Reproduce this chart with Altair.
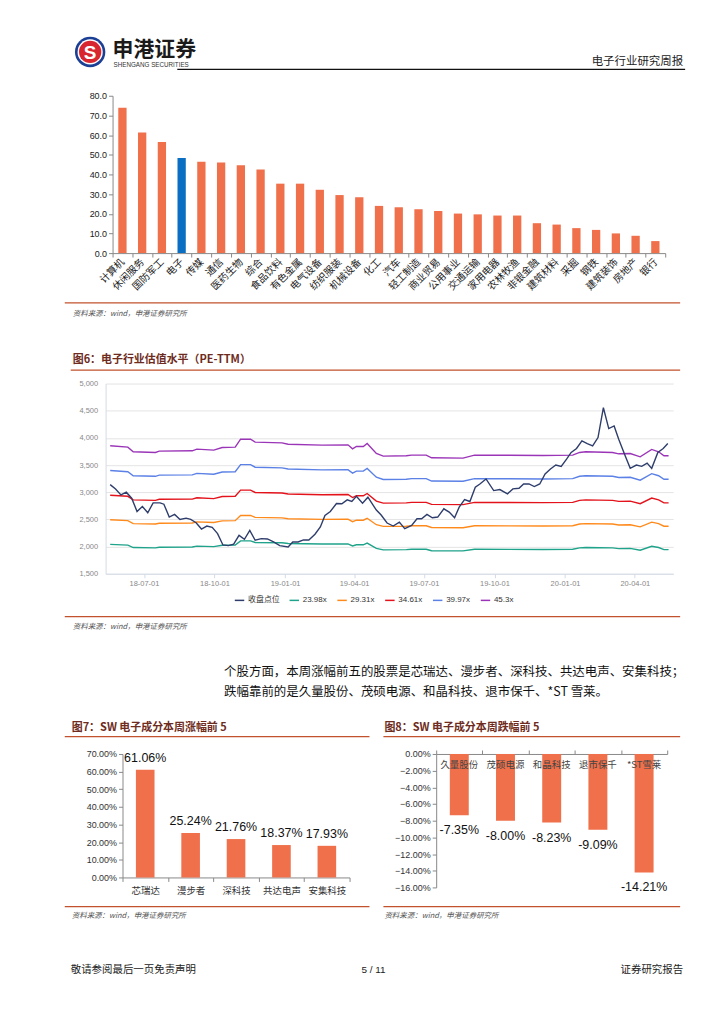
import altair as alt
import pandas as pd

# ---------------- data ----------------
industries = ["计算机", "休闲服务", "国防军工", "电子", "传媒", "通信", "医药生物", "综合",
              "食品饮料", "有色金属", "电气设备", "纺织服装", "机械设备", "化工", "汽车",
              "轻工制造", "商业贸易", "公用事业", "交通运输", "家用电器", "农林牧渔",
              "非银金融", "建筑材料", "采掘", "钢铁", "建筑装饰", "房地产", "银行"]
industry_pe = [73.9, 61.3, 56.5, 48.4, 46.4, 46.1, 44.7, 42.5, 35.3, 35.3, 32.2, 29.5,
               28.4, 24.0, 23.3, 22.3, 21.4, 20.1, 19.7, 19.1, 19.1, 15.2, 14.5, 12.7,
               11.8, 10.0, 8.8, 6.1]
highlight = "电子"
bar_ticks = [0, 10, 20, 30, 40, 50, 60, 70, 80]

series_names = ["收盘点位", "23.98x", "29.31x", "34.61x", "39.97x", "45.3x"]
series_colors = ["#2E3D6B", "#1FA38A", "#FF8A1C", "#E3121B", "#5B80E6", "#9B35B8"]

band_dates = ["2018-05-18", "2018-06-10", "2018-06-17", "2018-07-16", "2018-07-21",
              "2018-09-02", "2018-09-08", "2018-09-30", "2018-10-11", "2018-10-28",
              "2018-11-04", "2018-11-17", "2018-11-23", "2018-12-28", "2019-01-05",
              "2019-02-18", "2019-03-24", "2019-03-30", "2019-04-04", "2019-04-13",
              "2019-04-18", "2019-04-30", "2019-05-09", "2019-06-08", "2019-06-15",
              "2019-07-04", "2019-07-11", "2019-08-21", "2019-09-05", "2019-12-03",
              "2020-01-11", "2020-01-20", "2020-01-28", "2020-03-03", "2020-03-11",
              "2020-03-26", "2020-04-08", "2020-04-23", "2020-05-02", "2020-05-09",
              "2020-05-15"]
pe_45 = [3854, 3829, 3744, 3732, 3756, 3762, 3793, 3774, 3823, 3829, 3976, 3976, 3921, 3909,
         3884, 3866, 3872, 3799, 3841, 3841, 3896, 3713, 3665, 3671, 3683, 3683, 3634, 3628,
         3683, 3677, 3683, 3732, 3744, 3732, 3707, 3713, 3652, 3787, 3744, 3671, 3671]
pe_40 = [3400, 3378, 3303, 3293, 3314, 3319, 3347, 3330, 3373, 3378, 3508, 3508, 3460, 3449,
         3427, 3411, 3416, 3352, 3389, 3389, 3437, 3276, 3234, 3239, 3250, 3250, 3206, 3201,
         3250, 3244, 3250, 3293, 3303, 3293, 3271, 3276, 3222, 3341, 3303, 3239, 3239]
pe_35 = [2944, 2925, 2860, 2851, 2870, 2874, 2898, 2883, 2921, 2925, 3038, 3038, 2996, 2986,
         2967, 2954, 2958, 2902, 2935, 2935, 2977, 2837, 2800, 2805, 2814, 2814, 2776, 2772,
         2814, 2809, 2814, 2851, 2860, 2851, 2832, 2837, 2790, 2893, 2860, 2805, 2805]
pe_29 = [2494, 2477, 2422, 2415, 2430, 2434, 2454, 2442, 2473, 2477, 2573, 2573, 2537, 2529,
         2513, 2501, 2505, 2458, 2485, 2485, 2521, 2402, 2371, 2375, 2383, 2383, 2351, 2347,
         2383, 2379, 2383, 2415, 2422, 2415, 2398, 2402, 2363, 2450, 2422, 2375, 2375]
pe_24 = [2040, 2027, 1982, 1976, 1988, 1992, 2008, 1998, 2024, 2027, 2105, 2105, 2076, 2069,
         2056, 2047, 2050, 2011, 2033, 2033, 2063, 1966, 1940, 1943, 1950, 1950, 1924, 1921,
         1950, 1947, 1950, 1976, 1982, 1976, 1962, 1966, 1933, 2005, 1982, 1943, 1943]

close_dates = ["2018-05-18", "2018-05-25", "2018-06-01", "2018-06-08", "2018-06-15", "2018-06-22",
               "2018-06-29", "2018-07-06", "2018-07-13", "2018-07-22", "2018-07-27", "2018-08-03",
               "2018-08-10", "2018-08-17", "2018-08-25", "2018-08-31", "2018-09-07", "2018-09-14",
               "2018-09-21", "2018-09-28", "2018-10-05", "2018-10-12", "2018-10-19", "2018-10-26",
               "2018-11-02", "2018-11-09", "2018-11-16", "2018-11-23", "2018-12-01", "2018-12-09",
               "2018-12-17", "2018-12-25", "2019-01-05", "2019-01-11", "2019-01-18", "2019-01-25",
               "2019-02-01", "2019-02-09", "2019-02-16", "2019-02-22", "2019-03-01", "2019-03-09",
               "2019-03-16", "2019-03-23", "2019-03-29", "2019-04-04", "2019-04-12", "2019-04-19",
               "2019-04-30", "2019-05-06", "2019-05-14",
               "2019-05-22", "2019-05-30", "2019-06-06", "2019-06-15", "2019-06-22", "2019-06-28",
               "2019-07-05", "2019-07-12", "2019-07-19", "2019-07-27", "2019-08-03", "2019-08-10",
               "2019-08-16", "2019-08-23", "2019-08-30", "2019-09-06", "2019-09-12", "2019-09-20",
               "2019-09-30", "2019-10-08", "2019-10-18", "2019-10-25", "2019-11-02", "2019-11-08",
               "2019-11-15", "2019-11-22", "2019-11-29", "2019-12-06", "2019-12-13", "2019-12-20",
               "2019-12-27", "2020-01-03", "2020-01-09", "2020-01-16", "2020-01-23", "2020-01-30",
               "2020-02-06", "2020-02-13", "2020-02-20", "2020-02-27", "2020-03-05", "2020-03-11",
               "2020-03-19", "2020-03-26", "2020-04-03", "2020-04-10", "2020-04-17", "2020-04-23",
               "2020-05-01", "2020-05-08", "2020-05-14"]
close_values = [3140, 3061, 2951, 3000, 2890, 2646, 2738, 2622, 2805, 2805, 2780, 2543, 2591,
                2500, 2524, 2500, 2439, 2323, 2378, 2354, 2238, 2030, 2018, 2043, 2207, 2134,
                2299, 2116, 2146, 2140, 2085, 2018, 1994, 2085, 2085, 2122, 2122, 2226, 2360,
                2573, 2646, 2793, 2787, 2860, 2829, 2927, 2799, 2909, 2671, 2585, 2433,
                2378, 2451, 2329, 2390, 2512, 2512, 2591, 2530, 2543, 2695, 2634, 2530, 2726,
                2866, 2829, 3091, 3152, 3244, 3030, 3049, 2970, 3061, 3073, 3152, 3152, 3104,
                3152, 3335, 3427, 3500, 3476, 3610, 3732, 3805, 3945, 3896, 3854, 4006, 4555,
                4171, 4220, 3976, 3683, 3439, 3500, 3476, 3537, 3439, 3732, 3805, 3896]
line_ticks = [1500, 2000, 2500, 3000, 3500, 4000, 4500, 5000]
quarter_ticks = [(2018, 7), (2018, 10), (2019, 1), (2019, 4), (2019, 7), (2019, 10), (2020, 1), (2020, 4)]

up_names = ["芯瑞达", "漫步者", "深科技", "共达电声", "安集科技"]
up_pct = [61.06, 25.24, 21.76, 18.37, 17.93]
up_ticks = [0, 10, 20, 30, 40, 50, 60, 70]
down_names = ["久量股份", "茂硕电源", "和晶科技", "退市保千", "*ST雪莱"]
down_pct = [-7.35, -8.00, -8.23, -9.09, -14.21]
down_ticks = [0, -2, -4, -6, -8, -10, -12, -14, -16]

paragraph = ["个股方面，本周涨幅前五的股票是芯瑞达、漫步者、深科技、共达电声、安集科技；",
             "跌幅靠前的是久量股份、茂硕电源、和晶科技、退市保千、*ST 雪莱。"]
source_text = "资料来源：wind，申港证券研究所"

# ---------------- style ----------------
CJK = "Noto Sans CJK SC"
LAT = "Liberation Sans"
MIX = "Liberation Sans, Noto Sans CJK SC"
ORANGE = "#EF704B"
BLUE = "#0A6FC2"
SEP = "#C2522D"
TITLE_C = "#6E2B20"
W = 708

one = pd.DataFrame({"v": [0]})


def blank(w, h):
    return alt.Chart(one).mark_point(opacity=0).encode(
        x=alt.value(0), y=alt.value(0)).properties(width=w, height=h)


def txt(x, y, s, size, color="#111", font=CJK, weight="normal", align="left",
        baseline="middle", style="normal"):
    return alt.Chart(one).mark_text(
        text=s, fontSize=size, color=color, font=font, fontWeight=weight,
        align=align, baseline=baseline, fontStyle=style
    ).encode(x=alt.value(x), y=alt.value(y))


def hline(x1, x2, y, color, w=1.0):
    return alt.Chart(one).mark_rule(color=color, strokeWidth=w).encode(
        x=alt.value(x1), x2=alt.value(x2), y=alt.value(y))


def dot(x, y, size, color):
    return alt.Chart(one).mark_point(
        filled=True, shape="circle", size=size, color=color, opacity=1, strokeWidth=0
    ).encode(x=alt.value(x), y=alt.value(y))


# ---------------- row A : header (page y 8..94) ----------------
rowA = alt.layer(
    dot(79.5, 42, 930, "#1B3F94"),
    dot(79.5, 42, 640, "#FFFFFF"),
    dot(79.5, 42, 500, "#D7262F"),
    txt(79.5, 43, "S", 19, color="#FFFFFF", font=LAT, weight="bold", align="center"),
    txt(102, 40, "申港证券", 21, color="#1A1A1A", weight="bold"),
    txt(103, 55, "SHENGANG SECURITIES", 6.3, color="#333333", font=LAT),
    txt(675, 52, "电子行业研究周报", 11.5, color="#222222", align="right"),
    hline(167, 677, 59.5, "#111111", 1.3),
).properties(width=W, height=86)

# ---------------- row B : industry PE bars (page y 94..252) ----------------
bar_df = pd.DataFrame({"industry": industries, "pe": industry_pe})
bars = alt.Chart(bar_df).mark_bar(width=alt.RelativeBandSize(0.42)).encode(
    x=alt.X("industry:N", sort=industries,
            scale=alt.Scale(paddingInner=0, paddingOuter=0),
            axis=alt.Axis(title=None, labelAngle=-45, labelAlign="right", labelBaseline="middle",
                          labelFont=CJK, labelFontSize=10, labelColor="#1A1A1A",
                          labelPadding=3, tickBand="extent", tickSize=4, tickColor="#888888",
                          domainColor="#888888", labelOverlap=False)),
    y=alt.Y("pe:Q", scale=alt.Scale(domain=[0, 80]),
            axis=alt.Axis(title=None, values=bar_ticks, format=".1f", grid=False,
                          labelFont=LAT, labelFontSize=9, labelColor="#222222",
                          tickSize=4, tickColor="#888888", domainColor="#888888")),
    color=alt.when(alt.datum.industry == highlight).then(alt.value(BLUE)).otherwise(alt.value(ORANGE)),
).properties(width=555, height=158)
rowB = alt.hconcat(blank(102, 158), bars, blank(51, 158), spacing=0, bounds="flush")

# ---------------- row C : source + fig6 title (page y 252..383) ----------------
rowC = alt.layer(
    hline(54, 672, 50, SEP, 1.2),
    txt(62, 61, source_text, 7.5, color="#555555", style="italic"),
    txt(62, 107, "图6：电子行业估值水平（PE-TTM）", 11, color=TITLE_C, weight="bold"),
    hline(60, 672, 117.5, SEP, 1.2),
).properties(width=W, height=131)

# ---------------- row D : PE band line chart (page y 383..574) ----------------
parts = []
for name, vals in zip(series_names[1:], [pe_24, pe_29, pe_35, pe_40, pe_45]):
    parts.append(pd.DataFrame({"date": band_dates, "value": vals, "series": name}))
parts.append(pd.DataFrame({"date": close_dates, "value": close_values, "series": series_names[0]}))
line_df = pd.concat(parts, ignore_index=True)

# the colour legend is lifted to the top level of the page, so its
# position is given in page coordinates (minus the 8px body margin)
line = alt.Chart(line_df).mark_line(strokeWidth=1.4).encode(
    x=alt.X("date:T",
            scale=alt.Scale(type="utc", domain=[alt.DateTime(year=2018, month=5, date=12, utc=True),
                                                alt.DateTime(year=2020, month=5, date=21, utc=True)]),
            axis=alt.Axis(title=None, values=[alt.DateTime(year=y, month=m, date=1, utc=True)
                                              for y, m in quarter_ticks],
                          format="%y-%m-%d", labelFont=LAT, labelFontSize=7.5, labelColor="#888888",
                          domainColor="#D3DAE6", tickColor="#D3DAE6", tickSize=4, grid=False,
                          labelPadding=2)),
    y=alt.Y("value:Q", scale=alt.Scale(domain=[1500, 5000]),
            axis=alt.Axis(title=None, values=line_ticks, format=",.0f", labelFont=LAT,
                          labelFontSize=7.5, labelColor="#888888", ticks=False,
                          domainColor="#D3DAE6", gridColor="#E4E4E4", labelPadding=8)),
    color=alt.Color("series:N",
                    scale=alt.Scale(domain=series_names, range=series_colors),
                    legend=alt.Legend(orient="none", legendX=224, legendY=587, direction="horizontal",
                                      title=None, symbolType="stroke", symbolStrokeWidth=1.5,
                                      symbolSize=90, labelFont=MIX, labelFontSize=8,
                                      labelColor="#333333", columnPadding=6, labelOffset=3)),
).properties(width=570, height=191)
rowD = alt.hconcat(blank(95, 191), line, blank(43, 191), spacing=0, bounds="flush")

# ---------------- row E : source, paragraph, fig7/8 titles (page y 574..755) ----------------
rowE = alt.layer(
    hline(54, 672, 43, SEP, 1.2),
    txt(62, 53, source_text, 7.5, color="#555555", style="italic"),
    txt(214, 99, paragraph[0], 12.5, color="#111111"),
    txt(214, 119, paragraph[1], 12.5, color="#111111"),
    txt(61, 154.5, "图7：SW 电子成分本周涨幅前 5", 11, color=TITLE_C, weight="bold"),
    hline(54, 360, 163.5, SEP, 1.2),
    txt(375, 154.5, "图8：SW 电子成分本周跌幅前 5", 11, color=TITLE_C, weight="bold"),
    hline(374, 672, 163.5, SEP, 1.2),
).properties(width=W, height=181)

# ---------------- row F : fig7 / fig8 (page y 755..889) ----------------
f7 = pd.DataFrame({"name": up_names, "chg": up_pct, "lab": [f"{v:.2f}%" for v in up_pct]})
base7 = alt.Chart(f7).encode(
    x=alt.X("name:N", sort=up_names, scale=alt.Scale(paddingInner=0, paddingOuter=0),
            axis=alt.Axis(title=None, labelAngle=0, labelFont=CJK, labelFontSize=9.5,
                          labelColor="#333333", tickBand="extent", tickSize=4,
                          tickColor="#888888", domainColor="#888888", labelPadding=4)),
    y=alt.Y("chg:Q", scale=alt.Scale(domain=[0, 70]),
            axis=alt.Axis(title=None, values=up_ticks, grid=False,
                          labelExpr="format(datum.value, '.2f') + '%'", labelFont=LAT,
                          labelFontSize=9, labelColor="#333333", tickSize=4,
                          tickColor="#888888", domainColor="#888888")),
)
fig7 = alt.layer(
    base7.mark_bar(width=alt.RelativeBandSize(0.41), color=ORANGE),
    base7.mark_text(dy=-12, fontSize=12.5, font=LAT, color="#111111").encode(text="lab:N"),
).properties(width=228, height=124)

f8 = pd.DataFrame({"name": down_names, "chg": down_pct, "lab": [f"{v:.2f}%" for v in down_pct]})
base8 = alt.Chart(f8).encode(
    x=alt.X("name:N", sort=down_names, scale=alt.Scale(paddingInner=0, paddingOuter=0),
            axis=alt.Axis(title=None, orient="top", labels=False, tickBand="extent", tickSize=4,
                          tickColor="#888888", domainColor="#888888")),
    y=alt.Y("chg:Q", scale=alt.Scale(domain=[-16, 0]),
            axis=alt.Axis(title=None, values=down_ticks, grid=False,
                          labelExpr="format(datum.value, '.2f') + '%'", labelFont=LAT,
                          labelFontSize=9, labelColor="#333333", tickSize=4,
                          tickColor="#888888", domainColor="#888888")),
)
fig8 = alt.layer(
    base8.mark_bar(width=alt.RelativeBandSize(0.41), color=ORANGE),
    base8.mark_text(dy=15, fontSize=12.5, font=LAT, color="#111111").encode(text="lab:N"),
    base8.mark_text(fontSize=9.5, font=CJK, color="#444444").encode(y=alt.value(11), text="name:N"),
).properties(width=232, height=134)

rowF = alt.hconcat(blank(112, 134), fig7, blank(87, 134), fig8, blank(49, 134),
                   spacing=0, bounds="flush")

# ---------------- row G : sources + footer (page y 889..1016) ----------------
rowG = alt.layer(
    hline(54, 360, 19.3, SEP, 1.2),
    hline(374, 672, 19.3, SEP, 1.2),
    txt(61, 28.7, source_text, 7.5, color="#555555", style="italic"),
    txt(375, 28.7, source_text, 7.5, color="#555555", style="italic"),
    txt(60, 83, "敬请参阅最后一页免责声明", 10.5, color="#222222"),
    txt(364, 83, "5 / 11", 10, color="#222222", font=LAT, align="center"),
    txt(675, 83, "证券研究报告", 10.5, color="#222222", align="right"),
).properties(width=W, height=127)

# nested concat rows count as zero height under "flush", so an invisible
# full-width spacer row follows each of them to reserve its height
chart = alt.vconcat(rowA, rowB, blank(W, 158), rowC, rowD, blank(W, 191), rowE,
                    rowF, blank(W, 134), rowG, spacing=0, bounds="flush").properties(
    padding=0
).configure_view(stroke=None)

chart.save("out.html", embed_options={"renderer": "svg", "actions": False})
